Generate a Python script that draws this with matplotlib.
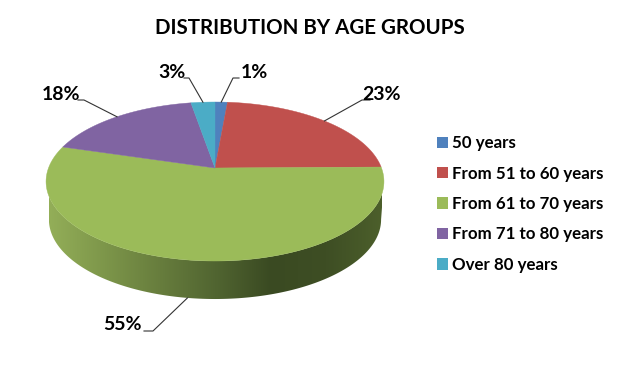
import numpy as np
import matplotlib
matplotlib.use('Agg')
import matplotlib.pyplot as plt
from matplotlib.colors import LinearSegmentedColormap
from matplotlib.patches import Patch, Polygon

plt.rcParams['font.family'] = ['Lato', 'DejaVu Sans']

categories = ['50 years', 'From 51 to 60 years', 'From 61 to 70 years', 'From 71 to 80 years', 'Over 80 years']
values = [1.4, 23.4, 54.8, 17.7, 2.7]
labels = ['1%', '23%', '55%', '18%', '3%']
colors = ['#4F81BD', '#C0504D', '#9BBB59', '#8064A2', '#4BACC6']
wall_colors = ['#93AE58', '#7D964A', '#677D3D', '#516531', '#3A4A22', '#3E4E24', '#4C5F2B']

# pixel layout of the tilted disc
cx, cy = 215, 168
rx, ry, k = 166.5, 77.2, 0.17
depth = 38

# elbow of the leader line and where the text sits
elbows = [(233, 78), (362, 100), (153, 331), (84, 100), (189, 78)]
ends = [(239, 78), (370, 100), (144, 331), (78, 100), (184, 78)]
text_pos = [(241, 73), (362, 94), (103, 324), (42, 94), (158, 73)]


def project(theta):
    # theta clockwise from 12 o'clock, perspective squeeze on the far side
    u, v = np.sin(theta), np.cos(theta)
    w = 1 + k * v
    return cx + rx * u / w, cy - ry * v / w


fig = plt.figure(figsize=(6.19, 3.66), dpi=100)
ax = fig.add_axes([0, 0, 1, 1])
ax.set_xlim(0, 619)
ax.set_ylim(366, 0)
ax.axis('off')

# side wall with horizontal shading
front = np.radians(np.linspace(99.8, 260.2, 200))
top_x, top_y = project(front)
low_x = cx + (top_x - cx) * 0.983
low_y = top_y + depth
wall = np.column_stack([np.r_[top_x, low_x[::-1]], np.r_[top_y, low_y[::-1]]])
cmap = LinearSegmentedColormap.from_list('wall', wall_colors)
grad = np.linspace(0, 1, 256).reshape(1, -1)
im = ax.imshow(grad, cmap=cmap, extent=(low_x.min(), low_x.max(), low_y.max() + 1, top_y.min() - 1),
               aspect='auto', zorder=1, interpolation='bilinear')
clip = Polygon(wall, closed=True, transform=ax.transData, fc='none', ec='none')
ax.add_patch(clip)
im.set_clip_path(clip)
ax.set_xlim(0, 619)
ax.set_ylim(366, 0)

# slices of the top face
start = 0.0
fracs = np.array(values) / sum(values)
for i, frac in enumerate(fracs):
    t = 2 * np.pi * np.linspace(start, start + frac, 120)
    x, y = project(t)
    ax.fill(np.r_[cx, x], np.r_[cy, y], color=colors[i], lw=0.3, zorder=2)

    # leader line from the slice rim, on the wall bottom for the front slice
    mx, my = project(2 * np.pi * (start + frac / 2))
    if np.cos(2 * np.pi * (start + frac / 2)) < 0:
        my = my + depth
    ax.plot([mx, elbows[i][0], ends[i][0]], [my, elbows[i][1], ends[i][1]],
            color='#333333', lw=0.8, zorder=3)
    ax.text(text_pos[i][0], text_pos[i][1], labels[i], ha='left', va='center',
            fontsize=14, fontweight='bold', color='black', zorder=4)
    start += frac

ax.text(310, 27.5, 'DISTRIBUTION BY AGE GROUPS', ha='center', va='center',
        fontsize=14.8, fontweight='bold', color='black')

handles = [Patch(facecolor=c, edgecolor='none') for c in colors]
ax.legend(handles, categories, loc='center left', bbox_to_anchor=(437 / 619, 1 - 204 / 366),
          frameon=False, prop={'weight': 'bold', 'size': 12.2}, handlelength=0.66, handleheight=0.66,
          handletextpad=0.24, labelspacing=0.85, borderpad=0, borderaxespad=0)

fig.savefig('out.png', dpi=100)
